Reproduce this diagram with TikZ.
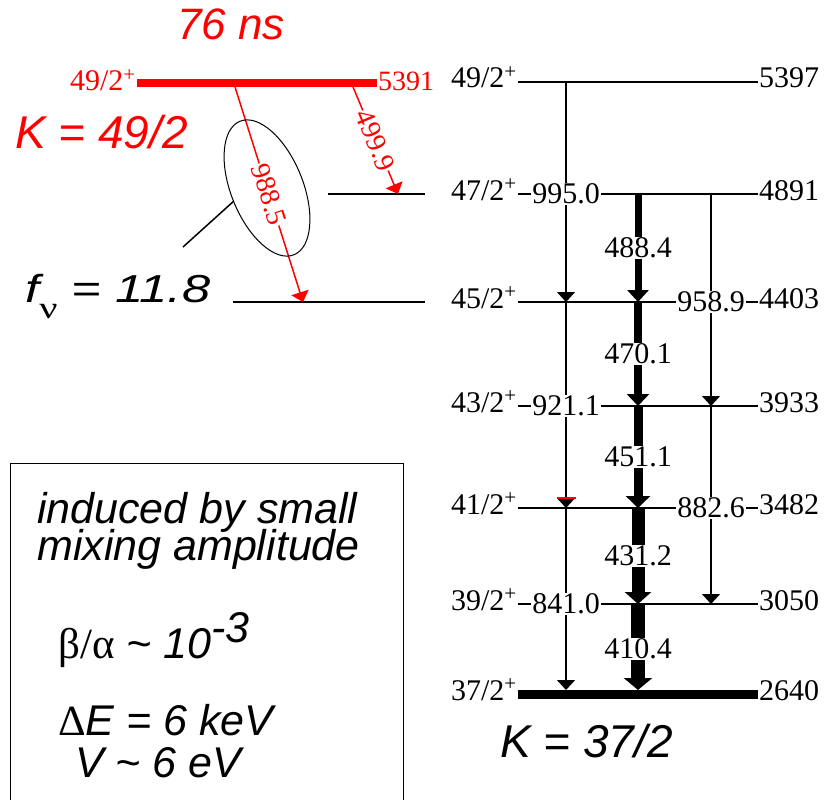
\documentclass[tikz,border=0pt]{standalone}
\usepackage{fontspec}
\setmainfont{Liberation Sans}
\newfontfamily\lvlfont{Liberation Serif}
\usetikzlibrary{arrows.meta,shapes.geometric}

\newcommand\lvlsize{\lvlfont\fontsize{30}{30}\selectfont}
\newcommand\redsize{\lvlfont\fontsize{28}{28}\selectfont}
\newcommand\bigit{\fontsize{46}{46}\selectfont\itshape}
\newcommand\boxit{\fontsize{43}{43}\selectfont\itshape}

\begin{document}
\begin{tikzpicture}[x=1pt,y=-1pt,
    lvl/.style={line width=1.5pt},
    gam/.style={line width=1.5pt,-{Triangle[width=18pt,length=10pt]}},
    glab/.style={fill=white,inner sep=1pt,font=\lvlsize},
    spin/.style={anchor=base east,inner sep=1pt,yshift=-6pt,font=\lvlsize},
    ener/.style={anchor=base west,inner sep=1pt,yshift=-6pt,font=\lvlsize}]
    \useasboundingbox (0,0) rectangle (825,800);

    % Levels of the K = 37/2 band
    \foreach \s/\y/\e in {49/82/5397,47/194/4891,45/302/4403,43/406/3933,
                          41/508/3482,39/604/3050,37/694/2640}{
        \coordinate (L\s) at (518,\y);
        \coordinate (R\s) at (758,\y);
        \coordinate (a\s) at (566,\y);
        \coordinate (c\s) at (638,\y);
        \coordinate (b\s) at (711,\y);
        \node[spin] (sp\s) at (L\s) {\s/2\textsuperscript{+}};
        \node[ener] (en\s) at (R\s) {\e};
    }
    \foreach \s in {49,47,...,39}
        \draw[lvl] (L\s) -- (R\s);
    \draw[line width=9pt] (L37) -- (R37);

    % E2 crossovers
    \draw[gam] (a49) -- (a45);
    \draw[gam] (a45) -- (a41);
    \draw[gam,shorten >=4pt] (a41) -- (a37);
    \draw[gam] (b47) -- (b43);
    \draw[gam] (b43) -- (b39);
    \draw[red,line width=1.5pt] (557,498) -- (576,498);
    \node[glab] (g995) at (a47) {995.0};
    \node[glab] (g921) at (a43) {921.1};
    \node[glab] (g841) at (a39) {841.0};
    \node[glab] (g958) at (b45) {958.9};
    \node[glab] (g882) at (b41) {882.6};

    % M1/E2 cascade
    \foreach \u/\v/\w/\h/\k/\t in {47/45/7/21/0/488.4,45/43/8/22/0/470.1,
                                  43/41/9/24/0/451.1,41/39/13/26/0/431.2,
                                  39/37/14/28/4/410.4}
        \draw[line width=\w pt,shorten >=\k pt,
              -{Triangle[width=\h pt,length=12pt]}]
            (c\u) -- node[glab] (g\u) {\t} (c\v);

    % K = 49/2 isomer
    \coordinate (kL) at (137,83);
    \coordinate (kR) at (377,83);
    \draw[red,line width=8pt] (kL) -- (kR);
    \node[spin,red,yshift=-2pt] (ksp) at (kL) {49/2\textsuperscript{+}};
    \node[ener,red,yshift=-2pt,font=\redsize] (ken) at (kR) {5391};
    \node[red,anchor=base,font=\fontsize{44}{44}\selectfont\itshape] (life)
        at (231,40) {76 ns};
    \node[red,anchor=base west,inner sep=0pt,font=\bigit] (kiso) at (15,148) {K = 49/2};

    % side feeding levels
    \coordinate (m47) at (328,194);
    \coordinate (n47) at (425,194);
    \coordinate (m45) at (233,302);
    \coordinate (n45) at (425,302);
    \draw[lvl] (m47) -- (n47);
    \draw[lvl] (m45) -- (n45);

    % K-forbidden decays
    \coordinate (k988) at (235,87);
    \coordinate (e988) at (303,302);
    \coordinate (k499) at (353,87);
    \coordinate (e499) at (398,194);
    \draw[gam,red] (k988) -- node[glab,sloped,text=red,font=\redsize] (g988) {988.5} (e988);
    \draw[gam,red] (k499) -- node[glab,sloped,text=red,font=\redsize] (g499) {499.9} (e499);

    % reduced hindrance
    \node[draw,ellipse,line width=1pt,minimum width=72pt,minimum height=144pt,
          rotate=22] (mix) at (267,188) {};
    \coordinate (fn) at (183,247);
    \draw[line width=1.5pt] (mix.west) -- (fn);
    \node[anchor=base west,inner sep=0pt] (fnu) at (25,302)
        {\scalebox{1.3}[1]{\fontsize{39}{39}\selectfont\itshape
         f\raisebox{-16pt}{\lvlfont\upshape\fontsize{31}{31}\selectfont ν} = 11.8}};

    \node[anchor=base west,inner sep=0pt,font=\bigit] (kband) at (500,757) {K = 37/2};

    % mixing box
    \draw[line width=1pt] (10,800) |- (403,463) -- (403,800);
    \node[anchor=base west,inner sep=0pt,font=\boxit] (ind) at (37,523) {induced by small};
    \node[anchor=base west,inner sep=0pt,font=\boxit] (amp) at (37,560) {mixing amplitude};
    \node[anchor=base west,inner sep=0pt,font=\boxit] (ratio) at (58,658)
        {{\lvlfont\upshape β/α} \textasciitilde{} 10\raisebox{16pt}{-3}};
    \node[anchor=base west,inner sep=0pt,font=\boxit] (de) at (58,735)
        {{\lvlfont\upshape Δ}E = 6 keV};
    \node[anchor=base west,inner sep=0pt,font=\boxit] (vv) at (75,777)
        {V \textasciitilde{} 6 eV};
\end{tikzpicture}
\end{document}
